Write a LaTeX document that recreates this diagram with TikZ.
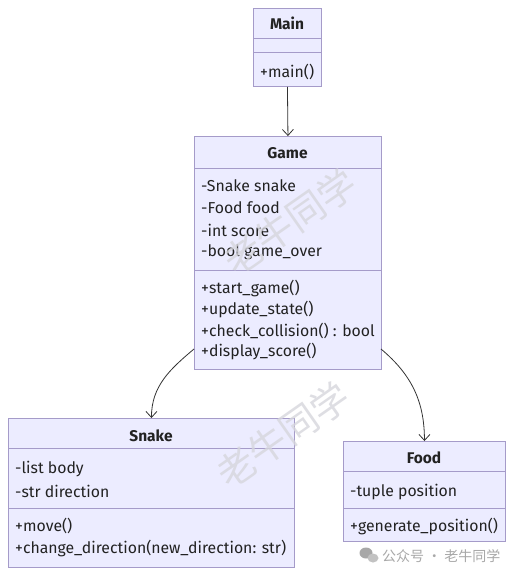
\documentclass[tikz,border=0pt]{standalone}
\usepackage{fontspec}
\setmainfont{Fira Sans}
\newfontfamily\cjk{Noto Sans CJK SC}
\usetikzlibrary{arrows.meta}
\definecolor{boxfill}{HTML}{ECECFF}
\definecolor{boxline}{HTML}{A59BC9}
\definecolor{txt}{HTML}{222222}
\definecolor{linec}{HTML}{333333}
\definecolor{wm}{HTML}{D6D6DC}
\definecolor{wmtxt}{HTML}{A8A8A8}
\tikzset{
  classbox/.style={draw=boxline, fill=boxfill, line width=0.9pt, anchor=north west, inner sep=0pt},
  divider/.style={draw=boxline, line width=0.9pt},
  title/.style={font=\fontsize{15.5}{18}\selectfont\bfseries, text=txt, inner sep=0pt},
  member/.style={font=\fontsize{15.8}{18}\selectfont, text=txt, anchor=west, inner sep=0pt},
  assoc/.style={draw=linec, line width=0.8pt, -{Straight Barb[length=6pt,width=11pt]}},
  watermark/.style={font=\cjk\fontsize{38}{40}\selectfont, text=wm, rotate=35, inner sep=0pt},
}
\begin{document}
\begin{tikzpicture}[x=1pt,y=-1pt]
\useasboundingbox[fill=white] (0,0) rectangle (521,581);

% Main
\node[classbox, minimum width=68pt, minimum height=78pt] (main) at (253,8) {};
\draw[divider] (253,38) -- (321,38);
\draw[divider] (253,52) -- (321,52);
\node[title] (mainT) at (287,23) {Main};
\node[member] (mainM1) at (260,72) {+main()};

% Game
\node[classbox, minimum width=187pt, minimum height=233pt] (game) at (194,136) {};
\draw[divider] (194,168) -- (381,168);
\draw[divider] (194,270) -- (381,270);
\node[title] (gameT) at (287.5,153) {Game};
\node[member] (gameA1) at (201,186) {-Snake snake};
\node[member] (gameA2) at (201,208) {-Food food};
\node[member] (gameA3) at (201,230) {-int score};
\node[member] (gameA4) at (201,252) {-bool game\_over};
\node[member] (gameM1) at (201,289) {+start\_game()};
\node[member] (gameM2) at (201,310) {+update\_state()};
\node[member] (gameM3) at (201,331) {+check\_collision() : bool};
\node[member] (gameM4) at (201,352) {+display\_score()};

% Snake
\node[classbox, minimum width=286pt, minimum height=149pt] (snake) at (8,418) {};
\draw[divider] (8,448) -- (294,448);
\draw[divider] (8,508) -- (294,508);
\node[title] (snakeT) at (151,436) {Snake};
\node[member] (snakeA1) at (15,469) {-list body};
\node[member] (snakeA2) at (15,491) {-str direction};
\node[member] (snakeM1) at (15,526) {+move()};
\node[member] (snakeM2) at (15,548) {+change\_direction(new\_direction: str)};

% Food
\node[classbox, minimum width=162pt, minimum height=100pt] (food) at (343,441) {};
\draw[divider] (343,471) -- (505,471);
\draw[divider] (343,508) -- (505,508);
\node[title] (foodT) at (424,458) {Food};
\node[member] (foodA1) at (350,492) {-tuple position};
\node[member] (foodM1) at (350,526) {+generate\_position()};

% connectors
\draw[assoc] (main.south) -- (game.north);
\coordinate (gL) at (194,349);
\coordinate (gR) at (381,349);
\draw[assoc] (gL) to[out=-140,in=90] (snake.north);
\draw[assoc] (gR) to[out=-40,in=90] (food.north);

% watermarks
\begin{scope}[opacity=0.8]
\node[watermark] (wm1) at (290,222) {老牛同学};
\node[watermark] (wm2) at (283,435) {老牛同学};
\end{scope}
% wechat-like icon
\fill[wmtxt] (366,553) ellipse (6.5pt and 5.5pt);
\fill[wmtxt!70] (373,558) ellipse (5.5pt and 4.5pt);
\node[font=\cjk\fontsize{14}{16}\selectfont, text=wmtxt, anchor=west, inner sep=0pt] (wm3) at (382,556) {公众号 · 老牛同学};
\end{tikzpicture}
\end{document}
